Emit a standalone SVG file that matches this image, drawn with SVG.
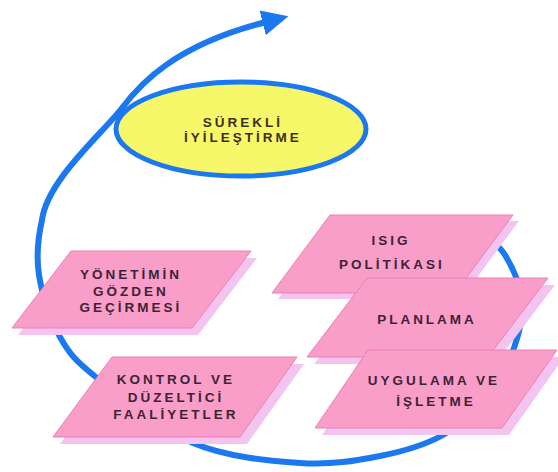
<svg xmlns="http://www.w3.org/2000/svg" width="558" height="472" viewBox="0 0 558 472">
<style>
.loop{fill:none;stroke:#1C78EE;stroke-width:6;stroke-linecap:round;stroke-linejoin:round}
.sh{fill:#F4C4F0;stroke:none}
.bx{fill:#F99DC9;stroke:#EE7FB4;stroke-width:1}
.t{font-family:"Liberation Sans",Arial,sans-serif;font-weight:bold;font-size:13.5px;letter-spacing:3px;fill:#3C2434;text-anchor:middle}
.et{fill:#3A3020}
</style>
<defs>
<marker id="ah" markerUnits="userSpaceOnUse" markerWidth="30" markerHeight="30" viewBox="0 -13 26 26" refX="3" refY="0" orient="auto">
<path d="M0,-11 L23,0 L0,11 z" fill="#1C78EE"/>
</marker>
</defs>
<g id="connectors">
<path class="loop" marker-end="url(#ah)" d="M478,228 C482.5,232.5 497.7,243 505,255 C512.3,267 520.3,285 522,300 C523.7,315 520.3,329.2 515,345 C509.7,360.8 502,380 490,395 C478,410 461.3,424.8 443,435 C424.7,445.2 403.8,451.3 380,456 C356.2,460.7 331.2,465.2 300,463 C268.8,460.8 226.8,457.2 193,443 C159.2,428.8 119.2,395.7 97,378 C74.8,360.3 69.7,354.2 60,337 C50.3,319.8 42,294.5 39,275 C36,255.5 38.2,236.7 42,220 C47,180 104,132 122,108 C140,84 175,45 266,22"/>
</g>
<g id="surekli">
<ellipse cx="241" cy="129" rx="125" ry="47" fill="#F7F76A" stroke="#1C78EE" stroke-width="5"/>
<text class="t et" x="243" y="127">SÜREKLİ</text>
<text class="t et" x="243" y="142">İYİLEŞTİRME</text>
</g>
<g id="yonetim">
<polygon class="sh" points="77,258 257,258 198,335 18,335"/>
<polygon class="bx" points="71,251 251,251 192,328 12,328"/>
<text class="t" x="131" y="279">YÖNETİMİN</text>
<text class="t" x="131" y="296">GÖZDEN</text>
<text class="t" x="131" y="312">GEÇİRMESİ</text>
</g>
<g id="kontrol">
<polygon class="sh" points="119,364 304,364 247,444 60,444"/>
<polygon class="bx" points="112,357 297,357 240,437 53,437"/>
<text class="t" x="176" y="384">KONTROL VE</text>
<text class="t" x="176" y="402">DÜZELTİCİ</text>
<text class="t" x="176" y="419">FAALİYETLER</text>
</g>
<g id="isig">
<polygon class="sh" points="336,221 519,221 461,299 278,299"/>
<polygon class="bx" points="330,215 513,215 455,293 272,293"/>
<text class="t" x="391" y="245">ISIG</text>
<text class="t" x="392" y="269">POLİTİKASI</text>
</g>
<g id="planlama">
<polygon class="sh" points="374,285 555,285 495,364 314,364"/>
<polygon class="bx" points="367,278 548,278 488,357 307,357"/>
<text class="t" x="427" y="324">PLANLAMA</text>
</g>
<g id="uygulama">
<polygon class="sh" points="375,357 564,357 509,435 322,435"/>
<polygon class="bx" points="368,350 557,350 502,428 315,428"/>
<text class="t" x="434" y="385">UYGULAMA VE</text>
<text class="t" x="436" y="406">İŞLETME</text>
</g>
</svg>
